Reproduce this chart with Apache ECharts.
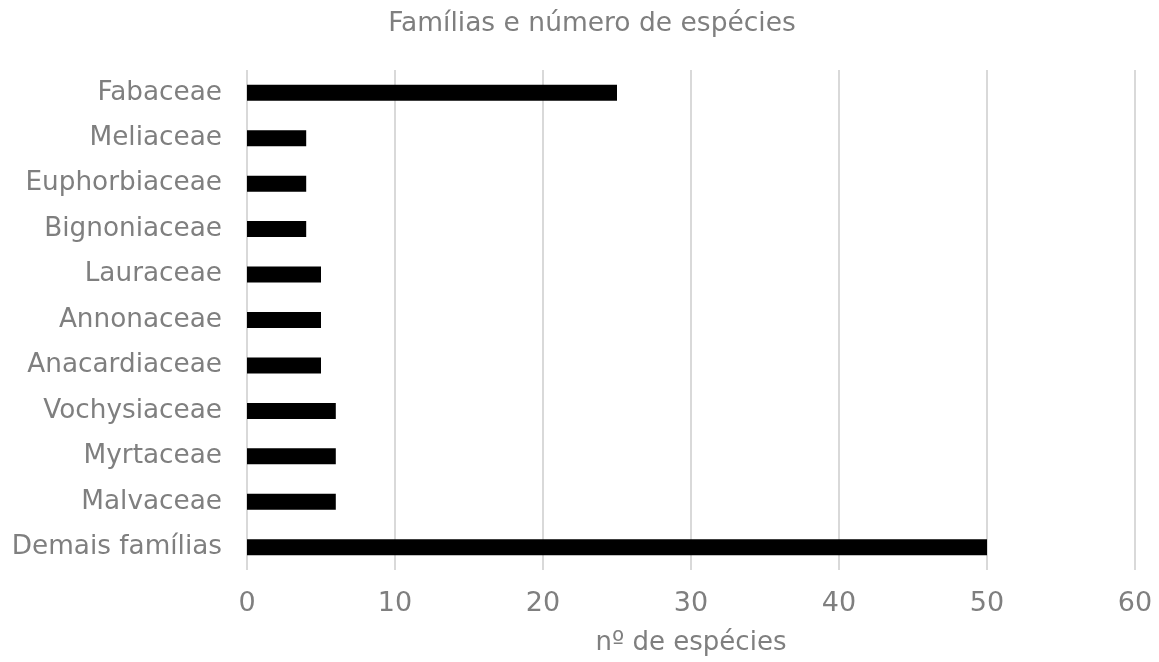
<!DOCTYPE html>
<html>
<head>
<meta charset="utf-8">
<script src="https://cdn.jsdelivr.net/npm/echarts@6/dist/echarts.min.js"></script>
<style>
  html, body { margin: 0; padding: 0; background: #fff; }
  #main { width: 1159px; height: 662px; }
</style>
</head>
<body>
<div id="main"></div>
<script>
// categories from bottom to top (ECharts category y axis starts at bottom)
var familias = ['Demais famílias', 'Malvaceae', 'Myrtaceae', 'Vochysiaceae', 'Anacardiaceae',
  'Annonaceae', 'Lauraceae', 'Bignoniaceae', 'Euphorbiaceae', 'Meliaceae', 'Fabaceae'];
var especies = [50, 6, 6, 6, 5, 5, 5, 4, 4, 4, 25];
var textColor = '#7f7f7f';
var fontName = 'DejaVu Sans';

var chart = echarts.init(document.getElementById('main'));

var option = {
  animation: false,
  title: {
    text: 'Famílias e número de espécies',
    left: 587,
    textAlign: 'center',
    top: 6,
    textStyle: { color: textColor, fontFamily: fontName, fontSize: 26.5, fontWeight: 'normal' }
  },
  grid: { left: 247, right: 24, top: 70, bottom: 92 },
  xAxis: {
    type: 'value',
    min: 0,
    max: 60,
    interval: 10,
    name: 'nº de espécies',
    nameLocation: 'middle',
    nameGap: 60,
    nameTextStyle: { color: textColor, fontFamily: fontName, fontSize: 26 },
    axisLine: { show: false },
    axisTick: { show: false },
    axisLabel: { color: textColor, fontFamily: fontName, fontSize: 27, margin: 20 },
    splitLine: { lineStyle: { color: '#d9d9d9', width: 2 } }
  },
  yAxis: {
    type: 'category',
    data: familias,
    axisLine: { show: false },
    axisTick: { show: false },
    axisLabel: { color: textColor, fontFamily: fontName, fontSize: 26.3, margin: 25 }
  },
  series: [{
    type: 'bar',
    data: especies,
    barWidth: 16,
    itemStyle: { color: '#000' }
  }]
};

chart.setOption(option);
</script>
</body>
</html>
